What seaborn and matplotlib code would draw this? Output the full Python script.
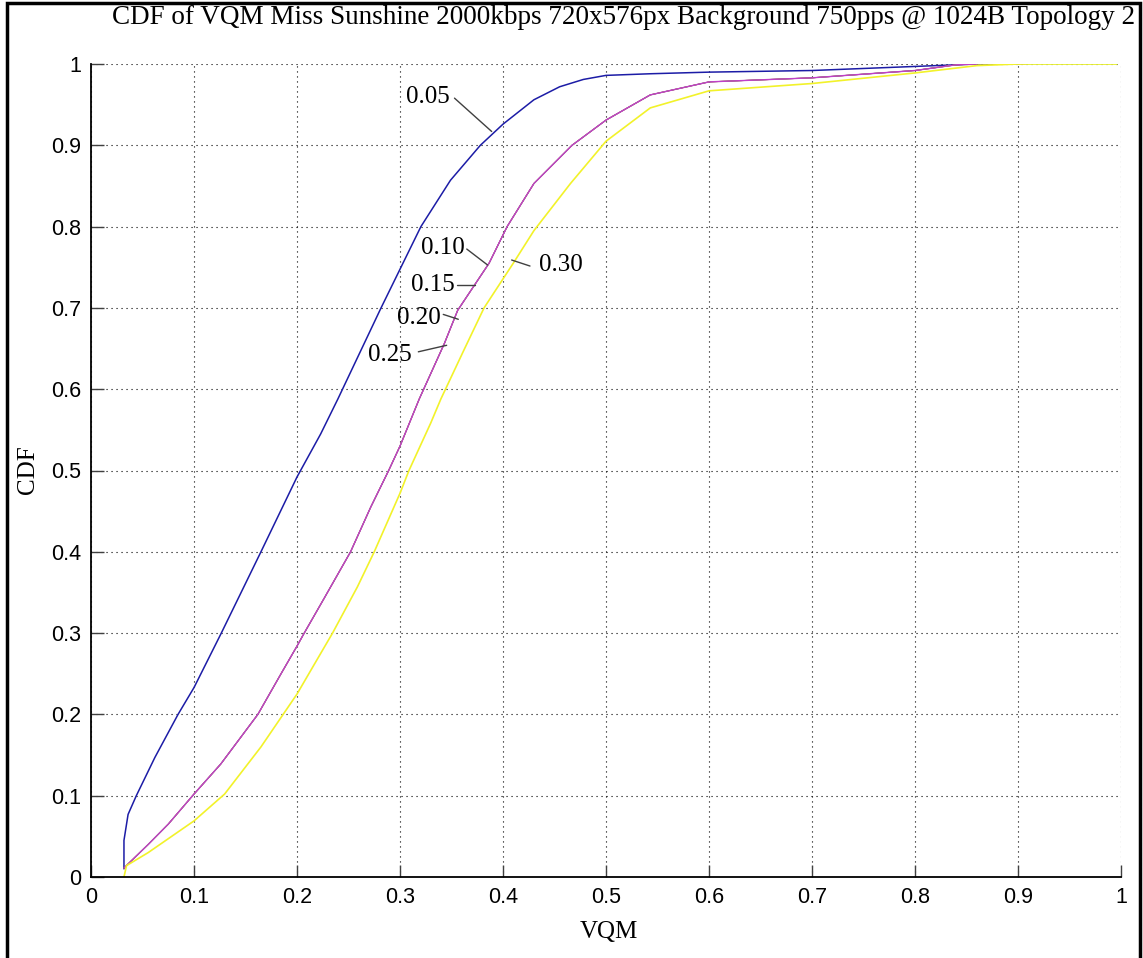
import matplotlib
matplotlib.use("Agg")
import matplotlib.pyplot as plt
import seaborn as sns
import pandas as pd
from matplotlib.patches import Rectangle

# ---------------- data ----------------
blue_x = [0.032, 0.032, 0.036, 0.044, 0.062, 0.0845, 0.100, 0.1265, 0.165, 0.200, 0.223,
          0.2397, 0.2816, 0.3203, 0.349, 0.378, 0.400, 0.430, 0.455, 0.478, 0.500, 0.543,
          0.600, 0.700, 0.800, 0.860]
blue_y = [0.010, 0.045, 0.077, 0.100, 0.147, 0.200, 0.233, 0.300, 0.400, 0.492, 0.545,
          0.588, 0.700, 0.800, 0.857, 0.900, 0.926, 0.956, 0.972, 0.981, 0.986, 0.988,
          0.990, 0.992, 0.997, 1.000]

mid_x = [0.032, 0.036, 0.0555, 0.075, 0.100, 0.126, 0.162, 0.1845, 0.200, 0.207, 0.226,
         0.252, 0.2716, 0.289, 0.300, 0.3187, 0.343, 0.356, 0.3865, 0.404, 0.430, 0.467,
         0.500, 0.543, 0.600, 0.700, 0.800, 0.840, 0.860]
mid_y = [0.011, 0.016, 0.040, 0.065, 0.102, 0.139, 0.200, 0.250, 0.284, 0.300, 0.342,
         0.400, 0.455, 0.500, 0.530, 0.588, 0.656, 0.697, 0.755, 0.800, 0.853, 0.900,
         0.931, 0.962, 0.978, 0.983, 0.992, 0.999, 1.000]

yel_x = [0.032, 0.0345, 0.0555, 0.100, 0.1297, 0.165, 0.200, 0.217, 0.2345, 0.2587, 0.275,
         0.300, 0.3087, 0.3297, 0.3397, 0.362, 0.3816, 0.410, 0.430, 0.4655, 0.500, 0.543,
         0.600, 0.700, 0.800, 0.860, 0.900, 0.996]
yel_y = [0.000, 0.014, 0.030, 0.069, 0.102, 0.160, 0.225, 0.262, 0.300, 0.357, 0.400,
         0.472, 0.500, 0.558, 0.588, 0.648, 0.700, 0.755, 0.795, 0.853, 0.905, 0.946,
         0.967, 0.976, 0.989, 0.998, 1.000, 1.000]

series_labels = ["0.05", "0.10", "0.15", "0.20", "0.25", "0.30"]
series_x = [blue_x, mid_x + [0.886], mid_x + [0.907], mid_x + [0.996], mid_x, yel_x]
series_y = [blue_y, mid_y + [1.000], mid_y + [1.000], mid_y + [1.000], mid_y, yel_y]
series_colors = ["#1c1ca6", "#303030", "#e02020", "#7ad07a", "#c040c8", "#f2f22a"]
series_widths = [1.1, 0.7, 0.7, 0.7, 1.0, 1.2]

# annotation: text centre, line start, line end (data coords)
ann_text = [(0.327, 0.960), (0.3416, 0.7737), (0.332, 0.728), (0.318, 0.687),
            (0.2906, 0.642), (0.4566, 0.7528)]
ann_line = [((0.3529, 0.958), (0.389, 0.917)),
            ((0.3648, 0.7724), (0.385, 0.7528)),
            ((0.355, 0.728), (0.3728, 0.728)),
            ((0.342, 0.692), (0.3566, 0.686)),
            ((0.3178, 0.646), (0.3453, 0.654)),
            ((0.4262, 0.7515), (0.4084, 0.7589))]

x_ticks = [0, 0.1, 0.2, 0.3, 0.4, 0.5, 0.6, 0.7, 0.8, 0.9, 1]
x_ticklabels = ["0", "0.1", "0.2", "0.3", "0.4", "0.5", "0.6", "0.7", "0.8", "0.9", "1"]
y_ticks = x_ticks
y_ticklabels = x_ticklabels

title = "CDF of VQM Miss Sunshine 2000kbps 720x576px Background 750pps @ 1024B Topology 2"

# ---------------- figure ----------------
sns.set_style("white")
plt.rcParams["font.family"] = ["Liberation Sans", "DejaVu Sans"]

W, H = 1143, 958
fig = plt.figure(figsize=(W / 100, H / 100), dpi=100)
ax = fig.add_axes([91 / W, 1 - 877 / H, (1121 - 91) / W, (877 - 64) / H])

frames = []
for lab, xs, ys in zip(series_labels, series_x, series_y):
    frames.append(pd.DataFrame({"VQM": xs, "CDF": ys, "series": lab}))
df = pd.concat(frames, ignore_index=True)

for lab, col, lw in zip(series_labels, series_colors, series_widths):
    sub = df[df["series"] == lab]
    sns.lineplot(data=sub, x="VQM", y="CDF", ax=ax, color=col, lw=lw,
                 sort=False, estimator=None, legend=False)

ax.set_xlim(0, 1)
ax.set_ylim(0, 1)
ax.set_xticks(x_ticks)
ax.set_xticklabels(x_ticklabels)
ax.set_yticks(y_ticks)
ax.set_yticklabels(y_ticklabels)
ax.set_xlabel("")
ax.set_ylabel("")

ax.grid(True, color="black", linestyle=(0, (1, 3.5)), linewidth=0.8)
ax.set_axisbelow(True)
for s in ["top", "right"]:
    ax.spines[s].set_visible(False)
for s in ["left", "bottom"]:
    ax.spines[s].set_color("black")
    ax.spines[s].set_linewidth(1.3)
ax.tick_params(axis="both", direction="in", length=9, width=1.0, color="#404040",
               labelsize=15.5, labelcolor="black", pad=7,
               top=False, right=False, bottom=True, left=True)

serif = ["Liberation Serif", "DejaVu Serif"]
for lab, (tx, ty), (p0, p1) in zip(series_labels, ann_text, ann_line):
    ax.plot([p0[0], p1[0]], [p0[1], p1[1]], color="#404040", lw=1.0)
    ax.text(tx, ty, lab, ha="center", va="center", fontsize=18, family=serif, color="black")

fig.text(624 / W, 1 - 18 / H, title, ha="center", va="center", fontsize=19.5,
         family=serif, color="black")
fig.text(609 / W, 1 - 932 / H, "VQM", ha="center", va="center", fontsize=18,
         family=serif, color="black")
fig.text(28 / W, 1 - 470 / H, "CDF", ha="center", va="center", fontsize=18,
         family=serif, color="black", rotation=90)

# figure frame
fig.patches.append(Rectangle((6.5 / W, -0.01), (1139.5 - 6.5) / W, 1.01 - 3 / H,
                             transform=fig.transFigure, fill=False,
                             edgecolor="black", linewidth=2.5))

fig.savefig("out.png", dpi=100)
